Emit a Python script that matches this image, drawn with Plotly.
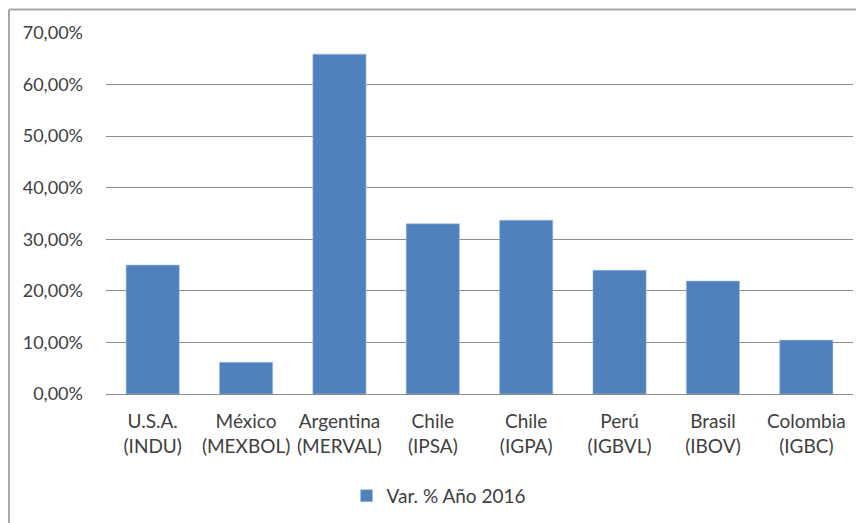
import plotly.graph_objects as go

categories = ["U.S.A.<br>(INDU)", "México<br>(MEXBOL)", "Argentina<br>(MERVAL)", "Chile<br>(IPSA)",
              "Chile<br>(IGPA)", "Perú<br>(IGBVL)", "Brasil<br>(IBOV)", "Colombia<br>(IGBC)"]
var_2016 = [25.0, 6.15, 65.9, 33.0, 33.7, 24.0, 21.9, 10.45]
y_ticks = [0, 10, 20, 30, 40, 50, 60, 70]
y_labels = ["0,00%", "10,00%", "20,00%", "30,00%", "40,00%", "50,00%", "60,00%", "70,00%"]

FONT = "Lato, sans-serif"
TEXT = "#404040"

fig = go.Figure()
fig.add_trace(go.Bar(
    x=categories, y=var_2016, name="Var. % Año 2016",
    marker=dict(color="#4f81bd", line=dict(color="#a7bfdf", width=0.6)),
))

# page body adds an 8px offset, margins are set for that
fig.update_layout(
    width=864, height=523,
    margin=dict(l=98, r=19, t=25, b=137),
    paper_bgcolor="white", plot_bgcolor="white",
    bargap=0.43,
    font=dict(family=FONT, size=19, color=TEXT),
    showlegend=True,
    legend=dict(orientation="h", x=0.322, xanchor="left", y=-0.282, yanchor="middle",
                itemwidth=30, font=dict(size=19, color=TEXT)),
    shapes=[
        # chart border (only left and top edges are in view)
        dict(type="line", xref="paper", yref="paper", x0=-0.1299, x1=1.05, y0=1.0651, y1=1.0651,
             line=dict(color="#a6a6a6", width=2)),
        dict(type="line", xref="paper", yref="paper", x0=-0.1299, x1=-0.1299, y0=-0.45, y1=1.0651,
             line=dict(color="#a6a6a6", width=2)),
    ],
)
fig.update_yaxes(range=[0, 70], tickvals=y_ticks, ticktext=y_labels,
                 tickfont=dict(size=18),
                 showgrid=True, gridcolor="#8c8c8c", gridwidth=1.2,
                 zeroline=True, zerolinecolor="#8c8c8c", zerolinewidth=1.2,
                 showline=False, ticklabelstandoff=22)
fig.update_xaxes(showline=False, showgrid=False, tickangle=0, ticklabelstandoff=14)

fig.write_html("out.html")
